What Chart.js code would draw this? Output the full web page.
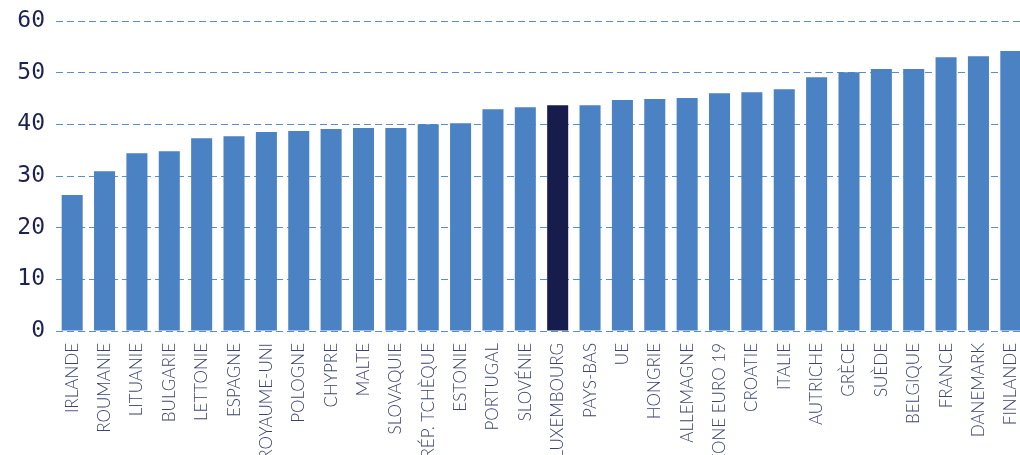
<!DOCTYPE html>
<html>
<head>
<meta charset="utf-8">
<script src="https://cdn.jsdelivr.net/npm/chart.js@4/dist/chart.umd.min.js"></script>
<style>
    body { margin: 0; overflow: hidden; background: #fff; }
</style>
</head>
<body>
<canvas id="ratioChart" width="1027" height="455"></canvas>
<script>
const pays = ['IRLANDE', 'ROUMANIE', 'LITUANIE', 'BULGARIE', 'LETTONIE', 'ESPAGNE', 'ROYAUME-UNI',
    'POLOGNE', 'CHYPRE', 'MALTE', 'SLOVAQUIE', 'RÉP. TCHÈQUE', 'ESTONIE', 'PORTUGAL', 'SLOVÉNIE',
    'LUXEMBOURG', 'PAYS-BAS', 'UE', 'HONGRIE', 'ALLEMAGNE', 'ZONE EURO 19', 'CROATIE', 'ITALIE',
    'AUTRICHE', 'GRÈCE', 'SUÈDE', 'BELGIQUE', 'FRANCE', 'DANEMARK', 'FINLANDE']
const valeurs = [26.3, 30.9, 34.4, 34.8, 37.3, 37.7, 38.5, 38.7, 39.1, 39.3, 39.3, 40.0, 40.2, 42.9, 43.3,
    43.7, 43.7, 44.7, 44.9, 45.1, 46.0, 46.2, 46.8, 49.1, 50.1, 50.7, 50.7, 53.0, 53.2, 54.2]
const yTicks = [0, 10, 20, 30, 40, 50, 60]

const bleu = '#4a82c4'
const marine = '#161c4c'

// Luxembourg en couleur foncée
const couleurs = pays.map(p => p === 'LUXEMBOURG' ? marine : bleu)

const ctx = document.getElementById('ratioChart').getContext('2d')
new Chart(ctx, {
    type: 'bar',
    data: {
        labels: pays,
        datasets: [{
            data: valeurs,
            backgroundColor: couleurs,
            borderWidth: 0,
            barPercentage: 0.65,
            categoryPercentage: 1
        }]
    },
    options: {
        responsive: false,
        animation: false,
        layout: { padding: 0 },
        plugins: {
            legend: { display: false },
            tooltip: { enabled: false }
        },
        scales: {
            x: {
                grid: { display: false },
                border: { display: false },
                ticks: {
                    maxRotation: 90,
                    minRotation: 90,
                    autoSkip: false,
                    padding: 4,
                    color: '#3c4370',
                    font: { family: 'Lato', size: 17, weight: '300' }
                },
                afterFit: (scale) => {
                    scale.height = 124      // labels longs coupés en bas
                    scale.paddingLeft = 0
                    scale.paddingRight = 0
                }
            },
            y: {
                min: 0,
                max: 60,
                afterBuildTicks: (scale) => { scale.ticks = yTicks.map(v => ({ value: v })) },
                border: { display: false, dash: [7, 4] },
                grid: {
                    color: '#5a8dcc',
                    lineWidth: 1,
                    drawTicks: false
                },
                ticks: {
                    padding: 11,
                    color: '#1c2352',
                    font: { family: 'DejaVu Sans Mono', size: 23 }
                },
                afterFit: (scale) => {
                    scale.width = 56
                    scale.paddingTop = 21
                    scale.paddingBottom = 0
                }
            }
        }
    }
})
</script>
</body>
</html>
